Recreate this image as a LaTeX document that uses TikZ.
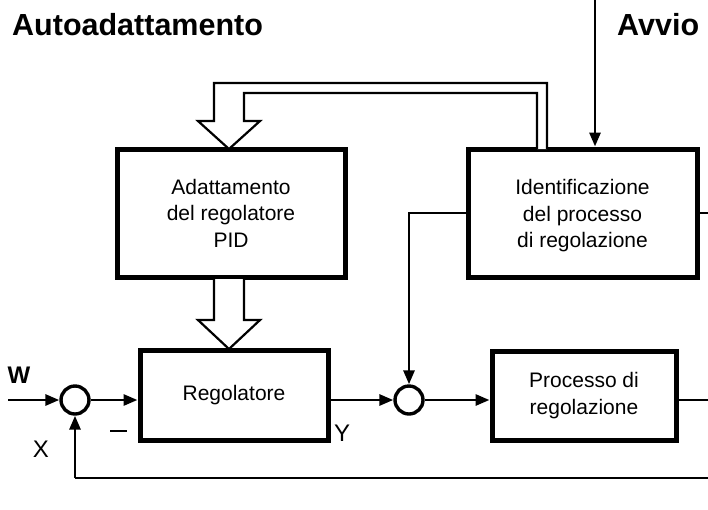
\documentclass[tikz,border=0pt]{standalone}
\usepackage{fontspec}
\setmainfont{Liberation Sans}
\usetikzlibrary{arrows.meta,calc}
\begin{document}
\begin{tikzpicture}[x=1pt,y=-1pt,
  blk/.style={draw,line width=5pt,rectangle,inner sep=0pt,align=center,
    font=\fontsize{21}{26.5}\selectfont},
  btxt/.style={inner sep=0pt,align=center,font=\fontsize{21}{26.5}\selectfont},
  sumj/.style={draw,circle,line width=3.4pt,minimum size=28pt,inner sep=0pt},
  conn/.style={line width=2.9pt},
  arr/.style={conn,-{Triangle[length=14pt,width=11pt]}},
  hollow/.style={line width=2.2pt,line join=miter},
  ttl/.style={font=\fontsize{30.5}{32}\selectfont\bfseries,inner sep=0pt,anchor=base west},
  lbl/.style={font=\fontsize{24}{26}\selectfont,inner sep=0pt}
]
\useasboundingbox (0,0) rectangle (708,509);
\fill[white] (0,0) rectangle (708,509);

% titles
\node[ttl] (t1) at (12,35) {Autoadattamento};
\node[ttl] (t2) at (617,35) {Avvio};

% blocks
\node[blk,minimum width=228pt,minimum height=128pt] (ad) at (231,213)
  {Adattamento\\del regolatore\\PID};
\node[blk,minimum width=229pt,minimum height=128pt] (id) at (582.5,213) {};
\node[btxt] (idt) at ($(id.center)+(0,3)$) {Identificazione\\del processo\\di regolazione};
\node[blk,minimum width=188pt,minimum height=90pt] (reg) at (234,395) {Regolatore};
\node[blk,minimum width=184pt,minimum height=89pt] (pr) at (584,395.5)
  {Processo di\\regolazione};

% summing junctions
\node[sumj] (c1) at (75,400) {};
\node[sumj] (c2) at (409,400) {};

% free ends
\coordinate (win) at (8,400);
\coordinate (avtop) at (595,0);
\coordinate (outR) at (708,400);
\coordinate (idR) at (708,213);
\coordinate (fbR) at (708,478);
\coordinate (fbL) at (75,478);
\coordinate (idL) at (468,213);

% labels
\node[font=\fontsize{24}{26}\selectfont\bfseries,inner sep=0pt,anchor=base] (w) at (19,383) {W};
\node[lbl] (x) at (41,449.5) {X};
\node[lbl] (y) at (342,433) {Y};
\draw[line width=2.4pt] (110,431) -- (127,431);

% connectors
\draw[arr] (win) -- (c1.west);
\draw[arr] (c1.east) -- (c1 -| reg.west);
\draw[arr] (c1 -| reg.east) -- (c2.west);
\draw[arr] (c2.east) -- (c2 -| pr.west);
\draw[conn] (c2 -| pr.east) -- (outR);
\draw[conn] (idR -| id.east) -- (idR);
\draw[conn] (fbR) -- (fbL);
\draw[arr] (fbL) -- (c1.south);
\draw[arr] (idL) -| (c2.north);
\draw[arr] (avtop) -- (avtop |- id.north);

% hollow arrows
\draw[hollow,fill=white] (547,149) -- (547,83) -- (214,83) -- (214,121) -- (198,121)
  -- (229,149) -- (260,121) -- (244,121) -- (244,93) -- (537,93) -- (537,149);
\draw[hollow,fill=white] (214,279) -- (214,320) -- (198,320) -- (229,349)
  -- (260,320) -- (244,320) -- (244,279);
\end{tikzpicture}
\end{document}
